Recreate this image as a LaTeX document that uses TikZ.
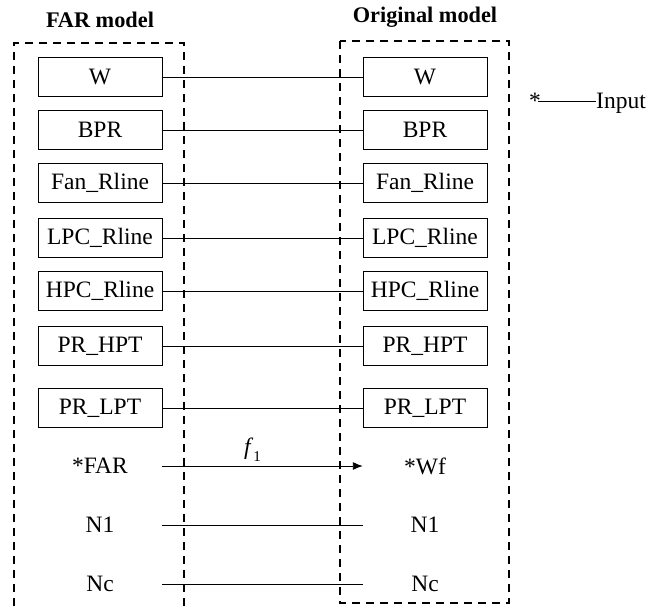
\documentclass[tikz,border=0pt]{standalone}
\usepackage{fontspec}
\setmainfont{Liberation Serif}
\usetikzlibrary{arrows.meta}
\begin{document}
\begin{tikzpicture}[x=1pt,y=-1pt,
  every node/.style={font=\fontsize{23.5}{26}\selectfont, inner sep=0pt},
  var/.style={draw, line width=0.9pt, minimum width=124pt, minimum height=39pt},
  plain/.style={minimum width=124pt, minimum height=30pt},
  frame/.style={dashed, dash pattern=on 8pt off 6pt, line width=1.1pt},
  link/.style={line width=0.9pt},
  title/.style={font=\fontsize{22.3}{25}\selectfont\bfseries}]
\useasboundingbox (0,0) rectangle (667,606);

% dashed frames of the two models
\draw[frame] (14,606) -- (14,43) -- (184,43) -- (184,606);
\draw[frame] (340,41) rectangle (509,603);

\node[title] (tfar) at (100,20) {FAR model};
\node[title] (torig) at (425,17) {Original model};

% variable boxes, left model
\node[var] (lw)   at (100,77)  {W};
\node[var] (lbpr) at (100,130) {BPR};
\node[var] (lfan) at (100,183) {Fan\_Rline};
\node[var] (llpc) at (100,238) {LPC\_Rline};
\node[var] (lhpc) at (100,291) {HPC\_Rline};
\node[var] (lhpt) at (100,346) {PR\_HPT};
\node[var] (llpt) at (100,408) {PR\_LPT};
\node[plain] (lfar) at (100,466) {*FAR};
\node[plain] (ln1)  at (100,525) {N1};
\node[plain] (lnc)  at (100,584) {Nc};

% variable boxes, original model
\node[var] (rw)   at (425,77)  {W};
\node[var] (rbpr) at (425,130) {BPR};
\node[var] (rfan) at (425,183) {Fan\_Rline};
\node[var] (rlpc) at (425,238) {LPC\_Rline};
\node[var] (rhpc) at (425,291) {HPC\_Rline};
\node[var] (rhpt) at (425,346) {PR\_HPT};
\node[var] (rlpt) at (425,408) {PR\_LPT};
\node[plain] (rwf)  at (425,466) {*Wf};
\node[plain] (rn1)  at (425,525) {N1};
\node[plain] (rnc)  at (425,584) {Nc};

% connections
\foreach \a/\b in {lw/rw, lbpr/rbpr, lfan/rfan, llpc/rlpc, lhpc/rhpc, lhpt/rhpt, llpt/rlpt, ln1/rn1, lnc/rnc}
  \draw[link] (\a.east) -- (\b.west);
\draw[link, -{Latex[length=10pt,width=8pt]}] (lfar.east) -- (rwf.west)
  node[pos=0.45, above=4pt] (f1) {\textit{f}\raisebox{-0.3em}{\fontsize{15}{15}\selectfont 1}};

% legend
\node[anchor=base west] (star) at (529,108) {*};
\node[anchor=base west] (inp) at (596,108) {Input};
\coordinate (ls) at (538,101);
\draw[link] (ls) -- (inp.west |- ls);
\end{tikzpicture}
\end{document}
